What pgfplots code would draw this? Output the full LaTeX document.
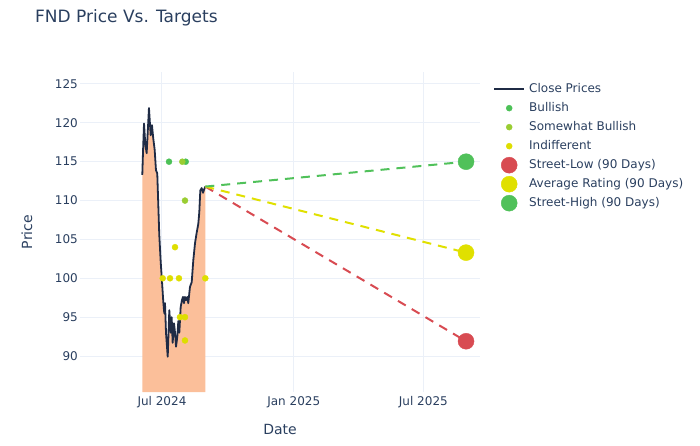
\documentclass[border=0pt]{standalone}
\usepackage{pgfplots}
\pgfplotsset{compat=1.18}
\usepackage{fontspec}
\setmainfont{DejaVu Sans}
\definecolor{txt}{HTML}{2A3F5F}
\definecolor{gridc}{HTML}{EBF0F8}
\definecolor{pricec}{HTML}{1F2B45}
\definecolor{fillc}{HTML}{FBBF9A}
\definecolor{bull}{HTML}{4CC157}
\definecolor{sbull}{HTML}{9ACD32}
\definecolor{indiff}{HTML}{DEDE00}
\definecolor{lowc}{HTML}{D84B52}
\definecolor{avgc}{HTML}{E0E000}
\definecolor{highc}{HTML}{50C15A}

\pgfplotstableread{
x y
-27.5 113.3
-26.5 116.3
-25.1 119.9
-23.3 117.2
-21.4 116.1
-18.2 121.9
-15.8 118.4
-14.0 119.7
-12.2 118.0
-10.2 116.5
-8.4 113.9
-6.6 113.5
-3.8 105.6
-1.8 102.1
0.0 99.6
1.8 97.0
3.2 95.5
4.2 96.8
5.6 93.0
8.0 89.9
10.2 95.9
12.2 93.0
13.5 95.0
14.9 91.7
16.8 94.2
18.2 93.0
19.6 91.2
21.4 92.5
22.8 94.5
24.2 93.0
26.1 96.3
27.9 97.2
29.3 97.6
30.7 96.8
32.1 97.6
33.5 97.2
35.3 97.6
36.7 96.8
39.1 98.9
41.5 99.5
43.7 102.3
46.1 104.5
48.3 105.8
50.7 107.0
52.1 108.5
53.5 111.3
55.4 111.6
57.3 111.0
58.7 111.4
60.5 111.8
}\prices

\pgfplotstableread{
x y
9.8 115.0
33.1 115.0
}\bullish

\pgfplotstableread{
x y
28.4 115.0
32.1 110.0
}\sbullish

\pgfplotstableread{
x y
18.2 104.0
1.0 100.0
11.2 100.0
23.7 100.0
60.5 100.0
25.1 95.0
32.1 95.0
32.1 92.0
}\indiff

\begin{document}
\begin{tikzpicture}[x=1pt,y=1pt]
\path[use as bounding box] (0,0) rectangle (700,445);
\begin{axis}[
  at={(80pt,53pt)}, anchor=south west,
  scale only axis, width=400pt, height=320pt,
  xmin=-114.5, xmax=444.1, ymin=85.37, ymax=126.54,
  axis line style={draw=none},
  major tick length=0pt,
  grid=major,
  major grid style={color=gridc, line width=1pt},
  xtick={0,184,365},
  xticklabels={Jul 2024,Jan 2025,Jul 2025},
  ytick={90,95,100,105,110,115,120,125},
  ticklabel style={font=\fontsize{12}{14}\selectfont, text=txt},
  xticklabel style={anchor=north, inner sep=0pt, yshift=-4pt},
  yticklabel style={anchor=east, inner sep=0pt, xshift=-2pt},
  /pgf/number format/assume math mode=true,
  legend style={at={(1.0275,0.972)}, anchor=north west, draw=none, fill=none,
    font=\fontsize{12}{14}\selectfont, text=txt,
    nodes={inner sep=0pt, text height=9pt, text depth=3pt},
    row sep=7pt, column sep=5pt},
  legend cell align=left,
  legend image code/.code={%
    \path[draw=none, fill=none] (0pt,-4pt) rectangle (30pt,4pt);
    \draw[overlay, mark repeat=2, mark phase=2, #1] plot coordinates {(0pt,0pt) (15pt,0pt) (30pt,0pt)};},
]
\addplot[fill=fillc, draw=none, forget plot] table[x=x,y=y] {\prices} \closedcycle;
\addplot[color=pricec, line width=1.8pt, line join=round] table[x=x,y=y] {\prices};
\addlegendentry{Close Prices}
\addplot[only marks, mark=*, mark size=3pt, color=bull, mark options={draw=none, fill=bull}] table[x=x,y=y] {\bullish};
\addlegendentry{Bullish}
\addplot[only marks, mark=*, mark size=3pt, color=sbull, mark options={draw=none, fill=sbull}] table[x=x,y=y] {\sbullish};
\addlegendentry{Somewhat Bullish}
\addplot[only marks, mark=*, mark size=3pt, color=indiff, mark options={draw=none, fill=indiff}] table[x=x,y=y] {\indiff};
\addlegendentry{Indifferent}
\addplot[lowc, line width=2pt, dash pattern=on 9pt off 7pt, forget plot] coordinates {(60.5,111.8) (424.6,91.9)};
\addplot[avgc, line width=2pt, dash pattern=on 9pt off 7pt, forget plot] coordinates {(60.5,111.8) (424.6,103.3)};
\addplot[highc, line width=2pt, dash pattern=on 9pt off 7pt, forget plot] coordinates {(60.5,111.8) (424.6,115.0)};
\addplot[only marks, mark=*, mark size=8pt, color=lowc, mark options={draw=none, fill=lowc}] coordinates {(424.6,91.9)};
\addlegendentry{Street-Low (90 Days)}
\addplot[only marks, mark=*, mark size=8pt, color=avgc, mark options={draw=none, fill=avgc}] coordinates {(424.6,103.3)};
\addlegendentry{Average Rating (90 Days)}
\addplot[only marks, mark=*, mark size=8pt, color=highc, mark options={draw=none, fill=highc}] coordinates {(424.6,115.0)};
\addlegendentry{Street-High (90 Days)}
\end{axis}
\node[anchor=base west, text=txt, font=\fontsize{17}{20}\selectfont, inner sep=0pt] at (35,422) {FND Price Vs. Targets};
\node[text=txt, font=\fontsize{14}{16}\selectfont, inner sep=0pt] at (280,16) {Date};
\node[text=txt, font=\fontsize{14}{16}\selectfont, inner sep=0pt, rotate=90] at (27,213) {Price};
\end{tikzpicture}
\end{document}
